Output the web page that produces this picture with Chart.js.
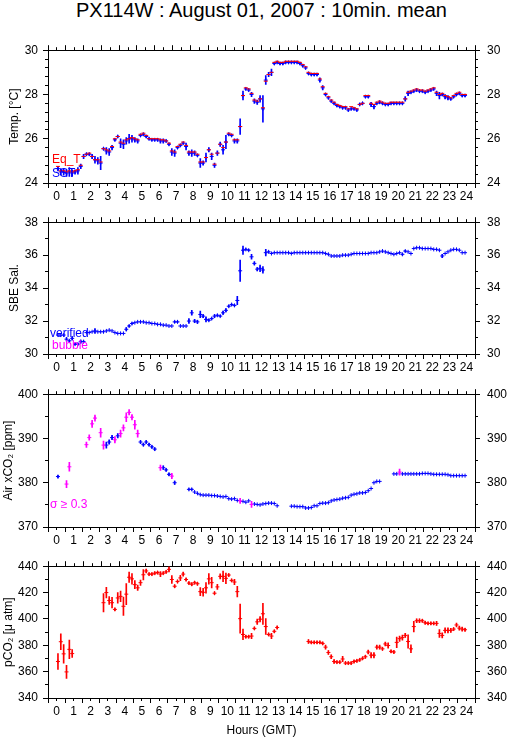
<!DOCTYPE html>
<html>
<head>
<meta charset="utf-8">
<title>PX114W : August 01, 2007 : 10min. mean</title>
<script src="https://cdn.jsdelivr.net/npm/chart.js@4.4.1/dist/chart.umd.min.js"></script>
<style>
  body { margin: 0; background: #fff; width: 509px; height: 739px; position: relative; overflow: hidden; }
  #title { position: absolute; left: 0; top: 0; width: 523px; text-align: center; color: #000;
           font: 20px "Liberation Sans", Arial, sans-serif; line-height: 20px; }
  canvas { position: absolute; left: 0; }
</style>
</head>
<body>
<div id="title">PX114W : August 01, 2007 : 10min. mean</div>
<canvas id="tempChart" width="509" height="169" style="top:36px"></canvas>
<canvas id="salChart" width="509" height="168" style="top:208px"></canvas>
<canvas id="airChart" width="509" height="169" style="top:380px"></canvas>
<canvas id="pco2Chart" width="509" height="186" style="top:552px"></canvas>
<script>
// 10-min means, one value per slot (0:05, 0:15, ... 23:55 GMT), null = no data
const sstValues = [
  24.65, 24.5, 24.5, 24.45, 24.5, 24.45, 24.5, 24.55, 24.75, 25.2, 25.3, 25.3,
  25.2, 25.05, 25.0, 24.9, 25.55, 25.45, 25.4, 25.6, 25.95, 26.1, 25.8, 25.75,
  25.9, 26.0, 26.0, 25.95, 25.9, 26.15, 26.2, 26.1, 26.0, 25.95, 25.95, 25.95,
  25.9, 25.9, 25.9, 25.75, 25.4, 25.35, 25.6, 25.7, 25.8, 25.65, 25.35, 25.35,
  25.35, 25.25, 24.9, 24.9, 25.15, 25.5, 25.2, 24.8, 25.35, 25.75, 25.5, 25.85,
  26.2, 26.15, 25.9, 25.9, 26.55, 27.95, 28.25, 28.2, 28.0, 27.7, 27.65, 27.8,
  27.35, 28.65, 28.9, 29.0, 29.4, 29.45, 29.4, 29.4, 29.45, 29.45, 29.45, 29.45,
  29.45, 29.4, 29.3, 29.2, 28.95, 28.9, 28.9, 28.9, 28.65, 28.3, 28.0, 27.85,
  27.7, 27.6, 27.5, 27.45, 27.4, 27.4, 27.3, 27.35, 27.35, 27.3, 27.55, 27.6,
  27.9, 27.9, 27.55, 27.45, 27.6, 27.65, 27.6, 27.55, 27.55, 27.6, 27.6, 27.6,
  27.6, 27.6, 27.8, 28.05, 28.1, 28.15, 28.2, 28.15, 28.15, 28.1, 28.15, 28.2,
  28.25, 28.05, 27.95, 28.0, 27.9, 27.85, 27.8, 27.9, 28.0, 28.05, 27.95, 27.95,
];
const sstErrors = [
  0.1, 0.15, 0.15, 0.15, 0.2, 0.15, 0.1, 0.15, 0.1, 0.1, 0.05, 0.05,
  0.1, 0.15, 0.15, 0.3, 0.05, 0.15, 0.15, 0.1, 0.05, 0.05, 0.2, 0.2,
  0.15, 0.2, 0.15, 0.1, 0.1, 0.05, 0.05, 0.05, 0.05, 0.05, 0.05, 0.05,
  0.1, 0.1, 0.05, 0.05, 0.15, 0.15, 0.05, 0.05, 0.05, 0.15, 0.1, 0.15,
  0.1, 0.05, 0.2, 0.1, 0.2, 0.1, 0.15, 0.1, 0.1, 0.1, 0.2, 0.3,
  0.05, 0.05, 0.1, 0.1, 0.35, 0.2, 0.05, 0.05, 0.1, 0.1, 0.1, 0.15,
  0.6, 0.2, 0.1, 0.15, 0.05, 0.05, 0.05, 0.05, 0.05, 0.05, 0.05, 0.05,
  0.05, 0.05, 0.05, 0.05, 0.05, 0.05, 0.05, 0.05, 0.1, 0.1, 0.05, 0.05,
  0.05, 0.05, 0.05, 0.05, 0.05, 0.05, 0.05, 0.05, 0.05, 0.05, 0.05, 0.05,
  0.05, 0.05, 0.1, 0.1, 0.05, 0.05, 0.05, 0.05, 0.05, 0.05, 0.05, 0.05,
  0.05, 0.05, 0.1, 0.1, 0.05, 0.05, 0.05, 0.05, 0.05, 0.05, 0.05, 0.05,
  0.05, 0.1, 0.15, 0.05, 0.1, 0.1, 0.05, 0.05, 0.05, 0.05, 0.05, 0.05,
];
const eqTempValues = [
  24.75, 24.55, 24.55, 24.5, 24.55, 24.5, 24.55, 24.6, 24.8, 25.2, 25.3, 25.35,
  25.2, 25.05, 25.05, 24.95, 25.55, 25.5, 25.45, 25.65, 26.0, 26.1, 25.85, 25.8,
  25.95, 26.0, 26.05, 26.0, 25.95, 26.2, 26.25, 26.15, 26.0, 26.0, 26.0, 26.0,
  25.95, 25.95, 25.9, 25.8, 25.45, 25.4, 25.65, 25.75, 25.85, 25.7, 25.4, 25.4,
  25.4, 25.3, 24.95, 24.95, 25.15, 25.5, 25.3, 24.85, 25.35, 25.75, 25.6, 25.85,
  26.25, 26.2, 25.95, 25.95, 26.55, 27.95, 28.3, 28.25, 28.05, 27.75, 27.7, 27.8,
  27.4, 28.6, 28.9, 29.0, 29.45, 29.5, 29.45, 29.45, 29.5, 29.5, 29.5, 29.5,
  29.5, 29.45, 29.35, 29.25, 29.0, 28.95, 28.95, 28.95, 28.7, 28.35, 28.05, 27.9,
  27.75, 27.65, 27.55, 27.5, 27.45, 27.45, 27.35, 27.45, 27.4, 27.35, 27.55, 27.6,
  27.95, 27.95, 27.6, 27.55, 27.65, 27.7, 27.65, 27.6, 27.6, 27.65, 27.65, 27.65,
  27.65, 27.65, 27.8, 28.1, 28.15, 28.2, 28.25, 28.2, 28.2, 28.15, 28.2, 28.25,
  28.3, 28.1, 28.0, 28.05, 27.95, 27.9, 27.85, 27.95, 28.05, 28.1, 28.0, 28.0,
];

const salinityValues = [
  31.15, 31.15, 31.15, 30.9, 30.8, 30.95, 30.6, 30.6, 30.75, 30.75, 31.3, 31.3,
  31.35, 31.4, 31.35, 31.35, 31.35, 31.4, 31.45, 31.4, 31.3, 31.25, 31.25, 31.25,
  31.5, 31.7, 31.85, 31.9, 31.95, 31.95, 31.95, 31.9, 31.9, 31.85, 31.85, 31.8,
  31.8, 31.75, 31.75, 31.7, 31.7, 31.95, 31.95, 31.7, 31.7, 31.7, 32.0, 32.5,
  32.0, 31.95, 32.4, 32.3, 32.1, 32.05, 32.15, 32.3, 32.35, 32.3, 32.5, 32.65,
  32.9, 33.0, 32.95, 33.25, 35.05, 36.3, 36.35, 36.3, 35.9, 35.5, 35.15, 35.2,
  35.1, 36.15, 36.2, 36.1, 36.15, 36.15, 36.15, 36.15, 36.15, 36.15, 36.1, 36.15,
  36.15, 36.15, 36.15, 36.15, 36.15, 36.15, 36.15, 36.15, 36.15, 36.15, 36.1, 36.05,
  35.95, 35.95, 35.95, 35.95, 36.0, 36.0, 36.0, 36.05, 36.1, 36.1, 36.1, 36.1,
  36.1, 36.1, 36.15, 36.15, 36.15, 36.2, 36.25, 36.2, 36.15, 36.1, 36.05, 36.1,
  36.15, 36.05, 36.25, 36.2, 36.1, 36.4, 36.45, 36.45, 36.4, 36.4, 36.4, 36.4,
  36.35, 36.35, 36.3, 35.95, 36.1, 36.2, 36.3, 36.35, 36.35, 36.3, 36.15, 36.15,
];
const salinityErrors = [
  0, 0, 0, 0.1, 0.05, 0.1, 0.05, 0.05, 0.1, 0.05, 0, 0,
  0, 0.15, 0, 0, 0, 0, 0, 0, 0, 0, 0, 0,
  0.1, 0.05, 0.05, 0, 0, 0, 0, 0, 0, 0, 0, 0,
  0, 0, 0, 0, 0, 0.05, 0.05, 0, 0, 0, 0.15, 0.15,
  0.1, 0.1, 0.2, 0.1, 0.15, 0.05, 0.05, 0.1, 0.05, 0.05, 0.1, 0.1,
  0.05, 0.05, 0.05, 0.25, 0.65, 0.25, 0.05, 0.05, 0.15, 0.1, 0.1, 0.2,
  0.2, 0.2, 0.05, 0, 0, 0, 0, 0, 0, 0, 0, 0,
  0, 0, 0, 0, 0, 0, 0, 0, 0, 0, 0, 0,
  0, 0, 0, 0, 0, 0, 0, 0, 0, 0, 0, 0,
  0, 0, 0, 0, 0, 0, 0, 0, 0, 0, 0, 0,
  0, 0.05, 0.05, 0, 0, 0, 0, 0, 0, 0, 0, 0,
  0, 0, 0, 0.1, 0, 0, 0, 0, 0, 0, 0, 0,
];

const airValues = [
  381.4, null, null, null, null, null, null, null, null, null, null, null,
  null, null, null, null, null, 388.5, 389.2, 390.2, null, 390.6, null, null,
  null, null, null, null, null, 389.2, 388.6, 389.2, 388.6, 388.1, 387.6, null,
  null, 383.4, 382.9, 381.9, null, 380.0, null, null, null, null, 378.5, 378.5,
  377.9, 377.6, 377.3, 377.2, 377.2, 377.2, 377.1, 377.1, 377.0, 376.9, 376.8, 376.9,
  376.4, 376.3, 376.4, 376.0, null, 375.8, 375.6, 375.9, null, 375.2, 375.1, 375.0,
  375.2, 375.3, 375.4, 375.4, 375.3, 374.8, null, null, null, null, 374.7, 374.7,
  374.6, 374.6, 374.6, 374.3, 374.3, 374.4, 374.8, 374.8, 375.3, 375.4, 375.4, 375.5,
  375.9, 376.1, 376.2, 376.3, 376.5, 376.6, 376.7, 377.2, 377.4, 377.5, 377.7, 377.7,
  377.8, 378.2, 378.7, 380.0, 380.3, 380.3, null, null, null, null, 382.0, 382.0,
  null, 382.0, 382.0, 382.0, 382.0, 382.0, 382.0, 382.0, 382.1, 382.1, 382.1, 382.0,
  381.9, 381.9, 381.9, 381.9, 381.9, 381.8, 381.6, 381.6, 381.6, 381.6, 381.6, 381.6,
];
const airErrors = [
  0.3, 0, 0, 0, 0, 0, 0, 0, 0, 0, 0, 0,
  0, 0, 0, 0, 0, 0.7, 0.5, 0.5, 0, 0.5, 0, 0,
  0, 0, 0, 0, 0, 0.3, 0.3, 0.3, 0.3, 0.3, 0.3, 0,
  0, 0.4, 0.3, 0.3, 0, 0.4, 0, 0, 0, 0, 0.2, 0.2,
];
// sigma >= 0.3 samples
const airNoisyValues = [
  null, null, null, 379.7, 383.6, null, null, null, null, null, 388.6, 390.2,
  393.3, 394.6, null, 391.3, 388.5, null, null, null, 389.7, null, 391.1, 392.4,
  394.8, 395.9, 394.8, 393.1, 391.1, null, null, null, null, null, null, null,
  383.4, null, null, null, 381.5, null, null, null, null, null, null, null,
  null, null, null, null, null, null, null, null, null, null, null, null,
  null, null, null, null, 375.9, null, null, null, 375.1, null, null, null,
  null, null, null, null, null, null, null, null, null, null, null, null,
  null, null, null, null, null, null, null, null, null, null, null, null,
  null, null, null, null, null, null, null, null, null, null, null, null,
  null, null, null, null, null, null, null, null, null, null, null, null,
  382.4, null, null, null, null, null, null, null, null, null, null, null,
  null, null, null, null, null, null, null, null, null, null, null, null,
];
const airNoisyErrors = [
  0, 0, 0, 0.8, 1.0, 0, 0, 0, 0, 0, 0.6, 0.6,
  0.8, 0.7, 0, 1.0, 0.9, 0, 0, 0, 0.7, 0, 0.8, 0.7,
  1.0, 0.6, 0.6, 1.0, 0.8, 0, 0, 0, 0, 0, 0, 0,
  0.6, 0, 0, 0, 0.6, 0, 0, 0, 0, 0, 0, 0,
  0, 0, 0, 0, 0, 0, 0, 0, 0, 0, 0, 0,
  0, 0, 0, 0, 0.6, 0, 0, 0, 0.7, 0, 0, 0,
  0, 0, 0, 0, 0, 0, 0, 0, 0, 0, 0, 0,
  0, 0, 0, 0, 0, 0, 0, 0, 0, 0, 0, 0,
  0, 0, 0, 0, 0, 0, 0, 0, 0, 0, 0, 0,
  0, 0, 0, 0, 0, 0, 0, 0, 0, 0, 0, 0,
  0.7, 0, 0, 0, 0, 0, 0, 0, 0, 0, 0, 0,
];

const pco2Values = [
  367.7, 382.7, 373.5, 359.8, 376.9, 373.7, null, null, null, null, null, null,
  null, null, null, null, 412.3, 420.0, 414.0, 412.3, 407.2, 415.9, 417.1, 409.6,
  418.8, 431.6, 430.4, 426.0, 423.6, 427.5, 433.5, 436.4, 434.0, 434.0, 434.7, 435.2,
  434.0, 434.7, 435.7, 437.6, 429.9, 424.8, 428.4, 431.1, 434.0, 429.9, 427.2, 426.3,
  427.5, 426.7, 420.7, 420.2, 423.6, 430.4, 427.5, 419.5, 424.3, 432.3, 432.3, 430.8,
  433.3, 429.2, 428.0, 420.7, 400.2, 388.2, 386.5, 386.5, 387.0, 392.8, 397.8, 399.8,
  403.9, 394.2, 388.2, 387.0, 390.6, 393.5, null, null, null, null, null, null,
  null, null, null, null, 382.9, 382.2, 382.2, 382.2, 382.2, 381.4, 378.6, 374.5,
  371.3, 367.7, 367.2, 367.2, 369.6, 366.5, 366.5, 366.5, 367.7, 368.2, 368.9, 370.1,
  371.3, 374.9, 372.5, 372.5, 378.6, 378.6, 377.3, 381.0, 379.8, 375.4, 374.9, 382.2,
  385.0, 385.8, 387.5, 382.9, 377.3, 394.2, 398.6, 398.6, 398.6, 397.1, 396.6, 396.6,
  396.6, 396.6, 389.0, 387.5, 391.3, 391.3, 391.3, 392.3, 395.4, 393.0, 392.3, 391.8,
];
const pco2Errors = [
  6, 6, 7, 5, 7, 3, 0, 0, 0, 0, 0, 0,
  0, 0, 0, 0, 7, 4, 3, 4, 1, 4, 4, 7,
  8, 4, 4, 3, 2, 2, 4, 1.5, 1, 1, 1, 1,
  2, 1, 1, 2, 3, 1, 1, 2, 1.5, 1, 1, 1,
  1, 1, 3, 3, 4, 4, 4, 1, 2, 2, 4, 4,
  1, 1, 2, 4, 11, 4, 1, 1, 2, 1, 2, 2,
  8, 6, 1, 2, 1, 1, 0, 0, 0, 0, 0, 0,
  0, 0, 0, 0, 1.5, 1, 1, 1, 1, 1, 1.5, 1.5,
  1.5, 1.5, 1, 1, 2, 1, 1, 1, 1, 1, 1, 1,
  1, 1.5, 2, 2, 1.5, 1.5, 1, 1.5, 2, 1, 1, 4,
  2, 2, 1.5, 5, 3, 4, 1.5, 1.5, 1, 1, 1, 1,
  1, 1.5, 3, 2, 2, 2, 1.5, 1, 1.5, 1.5, 1.5, 1,
];

const RED = "#ff0000";
const BLUE = "#0000ff";
const MAGENTA = "#ff00ff";

// slot centres in hours
const sampleHours = sstValues.map((_, i) => (i + 0.5) / 6);

Chart.defaults.font.family = "'Liberation Sans', Arial, Helvetica, sans-serif";
Chart.defaults.font.size = 12;
Chart.defaults.color = "#000";

// short ticks between the labelled ones
const minorTicks = {
  id: "minorTicks",
  afterDraw(chart) {
    const ctx = chart.ctx;
    ctx.save();
    ctx.strokeStyle = "#000";
    ctx.lineWidth = 1;
    ctx.beginPath();
    Object.values(chart.scales).forEach((scale) => {
      const step = scale.options.minorStep;
      if (!step) return;
      const len = 3;
      const n = Math.round((scale.max - scale.min) / step);
      for (let k = 0; k <= n; k++) {
        const p = Math.round(scale.getPixelForValue(scale.min + k * step) - 0.5) + 0.5;
        switch (scale.options.position) {
          case "bottom": ctx.moveTo(p, scale.top); ctx.lineTo(p, scale.top + len); break;
          case "top": ctx.moveTo(p, scale.bottom); ctx.lineTo(p, scale.bottom - len); break;
          case "left": ctx.moveTo(scale.right, p); ctx.lineTo(scale.right - len, p); break;
          case "right": ctx.moveTo(scale.left, p); ctx.lineTo(scale.left + len, p); break;
        }
      }
    });
    ctx.stroke();
    ctx.restore();
  },
};

// little coloured legend words inside the plot
const inlineLabels = {
  id: "inlineLabels",
  afterDatasetsDraw(chart, args, opts) {
    const { ctx, chartArea } = chart;
    ctx.save();
    ctx.font = "12px 'Liberation Sans', Arial, sans-serif";
    ctx.textBaseline = "alphabetic";
    (opts.items || []).forEach((item) => {
      ctx.fillStyle = item.color;
      ctx.fillText(item.text, chartArea.left + item.dx, chartArea.bottom + item.dy);
    });
    ctx.restore();
  },
};

Chart.register(minorTicks, inlineLabels);

function toPoints(values) {
  const out = [];
  values.forEach((v, i) => {
    if (v !== null) out.push({ x: sampleHours[i], y: v });
  });
  return out;
}

function toErrorBars(values, errors) {
  const out = [];
  values.forEach((v, i) => {
    const e = errors[i] || 0;
    if (v !== null && e > 0) out.push({ x: sampleHours[i], y: [v - e, v + e] });
  });
  return out;
}

function markerSet(label, values, color, style) {
  return {
    type: "scatter",
    label: label,
    data: toPoints(values),
    xAxisID: "x",
    yAxisID: "y",
    pointStyle: style || "cross",
    pointRadius: 2,
    pointHoverRadius: 2,
    pointBorderWidth: 1,
    borderColor: color,
    backgroundColor: color,
  };
}

function errorSet(label, values, errors, color) {
  return {
    type: "bar",
    label: label,
    data: toErrorBars(values, errors),
    xAxisID: "x",
    yAxisID: "y",
    backgroundColor: color,
    borderWidth: 0,
    barThickness: 1,
    grouped: false,
  };
}

function buildScales(yMin, yMax, yStep, yMinor, yTitle, titleGap, isLast) {
  const frame = {
    grid: { drawOnChartArea: false, tickLength: 5, color: "#000" },
    border: { color: "#000" },
  };
  return {
    x: {
      ...frame,
      type: "linear",
      position: "bottom",
      min: 0,
      max: 24,
      minorStep: 0.5,
      ticks: { stepSize: 1, autoSkip: false, maxRotation: 0, padding: 1 },
      title: { display: isLast, text: "Hours (GMT)", padding: 0 },
      afterFit: (s) => { s.height = isLast ? 40 : 22; },
    },
    xTop: {
      ...frame,
      type: "linear",
      position: "top",
      min: 0,
      max: 24,
      minorStep: 0.5,
      ticks: { stepSize: 1, display: false },
      afterFit: (s) => { s.height = 6; },
    },
    y: {
      ...frame,
      type: "linear",
      position: "left",
      min: yMin,
      max: yMax,
      minorStep: yMinor,
      ticks: { stepSize: yStep, padding: 5 },
      title: { display: true, text: yTitle, padding: { top: titleGap, bottom: 0 } },
      afterFit: (s) => { s.width = 48; },
    },
    y2: {
      ...frame,
      type: "linear",
      position: "right",
      min: yMin,
      max: yMax,
      minorStep: yMinor,
      ticks: { stepSize: yStep, padding: 7 },
      afterFit: (s) => { s.width = 34; },
    },
  };
}

function buildOptions(scales, labels) {
  return {
    responsive: false,
    animation: false,
    events: [],
    layout: { padding: { top: 2, left: 0, right: 0, bottom: 0 } },
    plugins: {
      legend: { display: false },
      tooltip: { enabled: false },
      inlineLabels: { items: labels },
    },
    scales: scales,
  };
}

function createTempChart() {
  new Chart(document.getElementById("tempChart"), {
    type: "scatter",
    data: {
      datasets: [
        markerSet("Eq_T", eqTempValues, RED, "line"),
        markerSet("SST", sstValues, BLUE),
        errorSet("SST sd", sstValues, sstErrors, BLUE),
      ],
    },
    options: buildOptions(buildScales(24, 30, 2, 0.4, "Temp. [°C]", 7, false), [
      { text: "Eq_T", color: RED, dx: 4, dy: -20 },
      { text: "SST", color: BLUE, dx: 4, dy: -6 },
    ]),
  });
}

function createSalinityChart() {
  new Chart(document.getElementById("salChart"), {
    type: "scatter",
    data: {
      datasets: [
        markerSet("SBE Sal.", salinityValues, BLUE),
        errorSet("SBE Sal. sd", salinityValues, salinityErrors, BLUE),
      ],
    },
    options: buildOptions(buildScales(30, 38, 2, 1, "SBE Sal.", 7, false), [
      { text: "verified", color: BLUE, dx: 2, dy: -17 },
      { text: "bubble", color: MAGENTA, dx: 4, dy: -5 },
    ]),
  });
}

function createAirChart() {
  new Chart(document.getElementById("airChart"), {
    type: "scatter",
    data: {
      datasets: [
        markerSet("sigma >= 0.3", airNoisyValues, MAGENTA),
        errorSet("sigma >= 0.3 sd", airNoisyValues, airNoisyErrors, MAGENTA),
        markerSet("Air xCO2", airValues, BLUE),
        errorSet("Air xCO2 sd", airValues, airErrors, BLUE),
      ],
    },
    options: buildOptions(buildScales(370, 400, 10, 5, "Air xCO₂ [ppm]", 1, false), [
      { text: "σ ≥ 0.3", color: MAGENTA, dx: 2, dy: -19 },
    ]),
  });
}

function createPco2Chart() {
  new Chart(document.getElementById("pco2Chart"), {
    type: "scatter",
    data: {
      datasets: [
        markerSet("pCO2", pco2Values, RED),
        errorSet("pCO2 sd", pco2Values, pco2Errors, RED),
      ],
    },
    options: buildOptions(buildScales(340, 440, 20, 10, "pCO₂ [μ atm]", 1, true), []),
  });
}

createTempChart();
createSalinityChart();
createAirChart();
createPco2Chart();
</script>
</body>
</html>
